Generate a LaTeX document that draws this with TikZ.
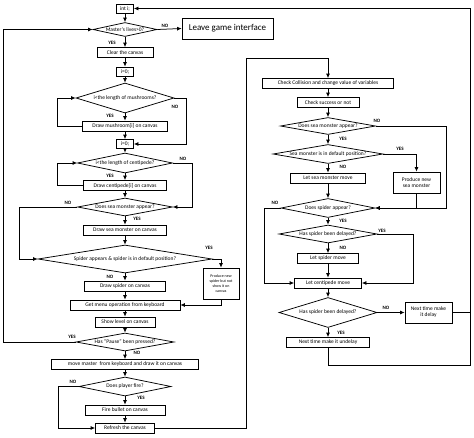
\documentclass[tikz,border=0pt]{standalone}
\usepackage{fontspec}
\setmainfont{Carlito}
\usepackage{tikz}
\usetikzlibrary{arrows,arrows.meta,shapes.geometric}

\tikzset{
    box/.style={draw, inner sep=0pt, minimum height=10, font=\fontsize{5.5}{6}\selectfont},
    dec/.style={diamond, draw, inner sep=0pt, font=\fontsize{5.5}{6}\selectfont},
    lab/.style={inner sep=0pt, font=\fontsize{5}{6}\selectfont\bfseries},
    arr/.style={-{Latex[length=4.5pt,width=4pt]}}
}
\newcommand{\dtext}[1]{\makebox[0pt]{#1}}

\begin{document}
\begin{tikzpicture}[x=1pt, y=-1pt, line width=0.75pt]
            \useasboundingbox (0,0) rectangle (474,437);

            \node[box, minimum width=17, minimum height=9] at (125,8.5) (INIT) {int i;};
            \node[dec, minimum width=64, minimum height=14] at (125,29.5) (MASTER) {\dtext{Master's lives>0?}};
            \node[box, minimum width=91, minimum height=21, font=\fontsize{9}{10}\selectfont] at (227.5,28.5) (LEAVE) {Leave game interface};
            \node[box, minimum width=56] at (125,52.5) (CLEAR) {Clear the canvas};
            \node[box, minimum width=17, minimum height=9] at (125,71.5) (ZEROA) {i=0;};
            \node[dec, minimum width=98, minimum height=30] at (125,98) (MUSH) {\dtext{i<the length of mushrooms?}};
            \node[box, minimum width=85] at (125,126) (DRAWM) {Draw mushroom[i] on canvas};
            \node[box, minimum width=17, minimum height=9] at (125,144) (ZEROB) {i=0;};
            \node[dec, minimum width=95, minimum height=20] at (125,163) (CENT) {\dtext{i<the length of centipede?}};
            \node[box, minimum width=83] at (125,185.5) (DRAWC) {Draw centipede[i] on canvas};
            \node[dec, minimum width=95, minimum height=18] at (125,207) (SEAM) {\dtext{Does sea monster appear?}};
            \node[box, minimum width=83] at (125,230) (DRAWSM) {Draw sea monster on canvas};
            \node[dec, minimum width=174, minimum height=28] at (125,259) (SPID) {\dtext{Spider appears \& spider is in default position?}};
            \node[box, minimum width=36, minimum height=31, align=center, font=\fontsize{4}{5}\selectfont] at (221,283.5) (PRODSP) {Produce new\\spider but not\\show it on\\canvas};
            \node[box, minimum width=81] at (125,286) (DRAWSP) {Draw spider on canvas};
            \node[box, minimum width=110] at (125,305) (MENU) {Get menu operation from keyboard};
            \node[box, minimum width=60] at (125,322) (LEVEL) {Show level on canvas};
            \node[dec, minimum width=98, minimum height=18] at (125,342) (PAUSE) {\dtext{Has ``Pause'' been pressed?}};
            \node[box, minimum width=147] at (125,364.5) (MOVE) {move master\ \ from keyboard and draw it on canvas};
            \node[dec, minimum width=92, minimum height=19] at (125,386.5) (FIRE) {\dtext{Does player fire?}};
            \node[box, minimum width=80] at (125,410) (BULLET) {Fire bullet on canvas};
            \node[box, minimum width=59] at (125,428) (REFRESH) {Refresh the canvas};

            \node[box, minimum width=131] at (328,83.5) (CHECK) {Check Collision and change value of variables};
            \node[box, minimum width=62] at (328,102.5) (SUCC) {Check success or not};
            \node[dec, minimum width=95, minimum height=17] at (328,126) (SMA) {\dtext{Does sea monster appear?}};
            \node[dec, minimum width=110, minimum height=19] at (328,154) (SMD) {\dtext{Sea monster is in default position?}};
            \node[box, minimum width=75] at (328,178) (LETSM) {Let sea monster move};
            \node[box, minimum width=47, minimum height=21, align=center] at (416.5,182.5) (PRODSM) {Produce new\\sea monster};
            \node[dec, minimum width=94, minimum height=19] at (328,208) (SPA) {\dtext{Does spider appear?}};
            \node[dec, minimum width=98, minimum height=18] at (328,234) (HSDA) {\dtext{Has spider been delayed?}};
            \node[box, minimum width=61] at (328,258.5) (LETSP) {Let spider move};
            \node[box, minimum width=67] at (328,283) (LETC) {Let centipede move};
            \node[dec, minimum width=98, minimum height=30] at (328,312.5) (HSDB) {\dtext{Has spider been delayed?}};
            \node[box, minimum width=47, minimum height=21, align=center] at (428.5,312.5) (DELAY) {Next time make\\it delay};
            \node[box, minimum width=83] at (328,342.5) (UNDEL) {Next time make it undelay};
            \coordinate (CORNER) at (470,365);

            \node[lab] at (165,26) (noA) {NO};
            \node[lab] at (112,43) (yesA) {YES};
            \node[lab] at (110,116) (yesB) {YES};
            \node[lab] at (175,107) (noB) {NO};
            \node[lab] at (110,176) (yesC) {YES};
            \node[lab] at (183,159) (noC) {NO};
            \node[lab] at (68,203) (noD) {NO};
            \node[lab] at (137,219) (yesD) {YES};
            \node[lab] at (209,248) (yesE) {YES};
            \node[lab] at (110,277) (noE) {NO};
            \node[lab] at (72,337) (yesF) {YES};
            \node[lab] at (137,353) (noF) {NO};
            \node[lab] at (73,382) (noG) {NO};
            \node[lab] at (141,398) (yesG) {YES};
            \node[lab] at (377,121) (noH) {NO};
            \node[lab] at (343,139) (yesH) {YES};
            \node[lab] at (400,149) (yesI) {YES};
            \node[lab] at (343,167) (noI) {NO};
            \node[lab] at (275,203) (noJ) {NO};
            \node[lab] at (343,221) (yesJ) {YES};
            \node[lab] at (382,231) (yesK) {YES};
            \node[lab] at (343,248) (noK) {NO};
            \node[lab] at (386,308) (noL) {NO};
            \node[lab] at (341,333) (yesL) {YES};

            \draw[arr] (INIT) -- (MASTER);
            \draw[arr] (MASTER) -- (CLEAR);
            \draw[arr] (CLEAR) -- (ZEROA);
            \draw[arr] (ZEROA) -- (MUSH);
            \draw[arr] (MUSH) -- (DRAWM);
            \draw[arr] (DRAWM) -- (ZEROB);
            \draw[arr] (ZEROB) -- (CENT);
            \draw[arr] (CENT) -- (DRAWC);
            \draw[arr] (DRAWC) -- (SEAM);
            \draw[arr] (SEAM) -- (DRAWSM);
            \draw[arr] (DRAWSM) -- (SPID);
            \draw[arr] (SPID) -- (DRAWSP);
            \draw[arr] (DRAWSP) -- (MENU);
            \draw[arr] (MENU) -- (LEVEL);
            \draw[arr] (LEVEL) -- (PAUSE);
            \draw[arr] (PAUSE) -- (MOVE);
            \draw[arr] (MOVE) -- (FIRE);
            \draw[arr] (FIRE) -- (BULLET);
            \draw[arr] (BULLET) -- (REFRESH);

            \draw[arr] (MASTER.east) -- (LEAVE.west);
            \draw[arr] (PAUSE.west) -| ([xshift=-89]MASTER.west) -- (MASTER.west);
            \draw[arr] (DRAWM.west) -| ([xshift=-18]MUSH.west) -- (MUSH.west);
            \draw[arr] (MUSH.east) -- ++(12,0) |- (ZEROB.east);
            \draw[arr] (DRAWC.west) -| ([xshift=-20]CENT.west) -- (CENT.west);
            \draw[arr] (CENT.east) -- ++(19,0) |- (SEAM.east);
            \draw[arr] (SEAM.west) -- ++(-58,0) |- (SPID.west);
            \draw[arr] (SPID.east) -| (PRODSP.north);
            \draw[arr] (PRODSP.south) |- (MENU.east);
            \draw[arr] (FIRE.west) -- ++(-20,0) |- (REFRESH.west);
            \draw[arr] (REFRESH.east) -- ++(91,0) |- ([yshift=20]CHECK.north) -- (CHECK.north);

            \draw[arr] (CHECK) -- (SUCC);
            \draw[arr] (SUCC) -- (SMA);
            \draw[arr] (SMA) -- (SMD);
            \draw[arr] (SMD) -- (LETSM);
            \draw[arr] (LETSM) -- (SPA);
            \draw[arr] (SPA) -- (HSDA);
            \draw[arr] (HSDA) -- (LETSP);
            \draw[arr] (LETSP) -- (LETC);
            \draw[arr] (LETC) -- (HSDB);
            \draw[arr] (HSDB) -- (UNDEL);

            \draw[arr] (SMA.east) -- ++(70,0) |- (SPA.east);
            \draw[arr] (SMD.east) -| (PRODSM.north);
            \draw[arr] (PRODSM.south) |- (SPA.east);
            \draw[arr] (SPA.west) -- ++(-16,0) |- (LETC.west);
            \draw[arr] (HSDA.east) -- ++(36,0) |- (LETC.east);
            \draw[arr] (HSDB.east) -- (DELAY.west);
            \draw (DELAY.east) -- (DELAY.east -| CORNER);
            \draw[arr] (UNDEL.south) |- (CORNER) |- (INIT.east);
        \end{tikzpicture}
\end{document}
